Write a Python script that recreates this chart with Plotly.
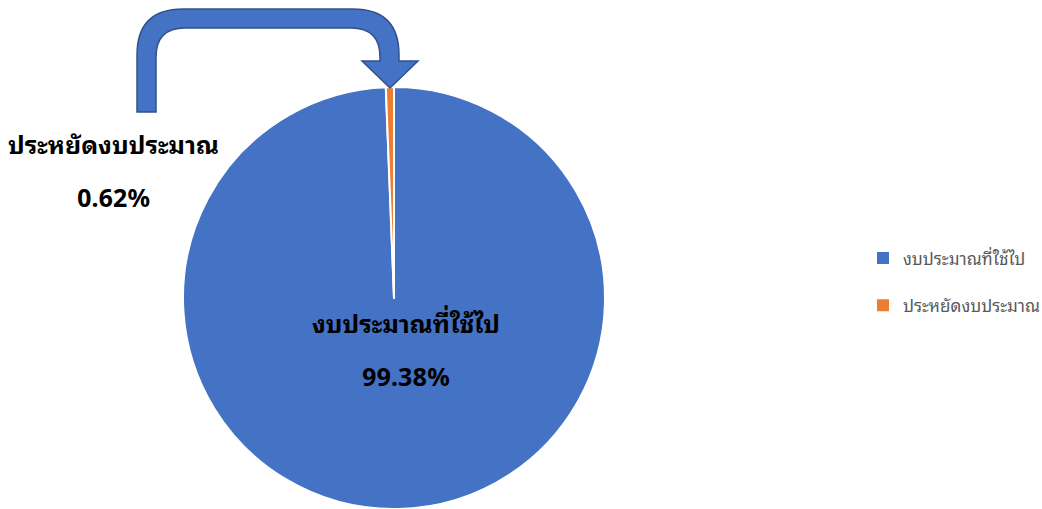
import plotly.graph_objects as go

labels = ["งบประมาณที่ใช้ไป", "ประหยัดงบประมาณ"]
values = [99.38, 0.62]
colors = ["#4472C4", "#ED7D31"]

W, H = 1042, 509
THAI = "Tahoma, Noto Sans Thai Looped, Loma, Garuda, Norasi, Noto Sans Thai, Noto Sans, sans-serif"

fig = go.Figure()

fig.add_trace(go.Pie(
    labels=labels, values=values, sort=False, direction="clockwise", rotation=0,
    marker=dict(colors=colors, line=dict(color="white", width=2)),
    textinfo="none", hoverinfo="label+percent", showlegend=False,
    domain=dict(x=[182 / W, 606 / W], y=[0, 1 - 87 / H]),
))

for i, (lab, col) in enumerate(zip(labels, colors)):
    fig.add_trace(go.Scatter(
        x=[None], y=[None], mode="markers", name=lab, legendgroup=f"g{i}",
        marker=dict(symbol="square", size=8, color=col),
    ))

total = sum(values)
pct = [f"{v / total * 100:.2f}%" for v in values]
label_pos = [(406, 322, 375), (113, 143, 196)]
for i, (px, py1, py2) in enumerate(label_pos):
    fig.add_annotation(x=px, y=py1, xref="x", yref="y", text=f"<b>{labels[i]}</b>",
                       showarrow=False, font=dict(family=THAI, size=25, color="#000000"))
    fig.add_annotation(x=px, y=py2, xref="x", yref="y", text=f"<b>{pct[i]}</b>",
                       showarrow=False, font=dict(family=THAI, size=25, color="#000000"))

arrow = ("M 137 112 L 137 55 Q 137 9 183 9 L 353 9 Q 399 9 399 55 L 399 61 "
         "L 418 61 L 390 88 L 362 61 L 380 61 L 380 57 Q 380 28 351 28 "
         "L 185 28 Q 156 28 156 57 L 156 112 Z")
fig.add_shape(type="path", path=arrow, xref="x", yref="y",
              fillcolor="#4472C4", line=dict(color="#2F528F", width=1.5), layer="above")

fig.update_layout(
    width=W, height=H, margin=dict(l=0, r=0, t=0, b=0, autoexpand=False),
    paper_bgcolor="white", plot_bgcolor="rgba(0,0,0,0)",
    xaxis=dict(range=[0, W], visible=False, domain=[0, 1], fixedrange=True),
    yaxis=dict(range=[H, 0], visible=False, domain=[0, 1], fixedrange=True),
    legend=dict(x=863 / W, y=1 - 282 / H, xanchor="left", yanchor="middle",
                font=dict(family=THAI, size=17, color="#595959"),
                tracegroupgap=22, itemsizing="constant"),
)

fig.write_html("out.html", config={"displayModeBar": False},
               post_script="document.body.style.margin='0';document.body.style.overflow='hidden';")
